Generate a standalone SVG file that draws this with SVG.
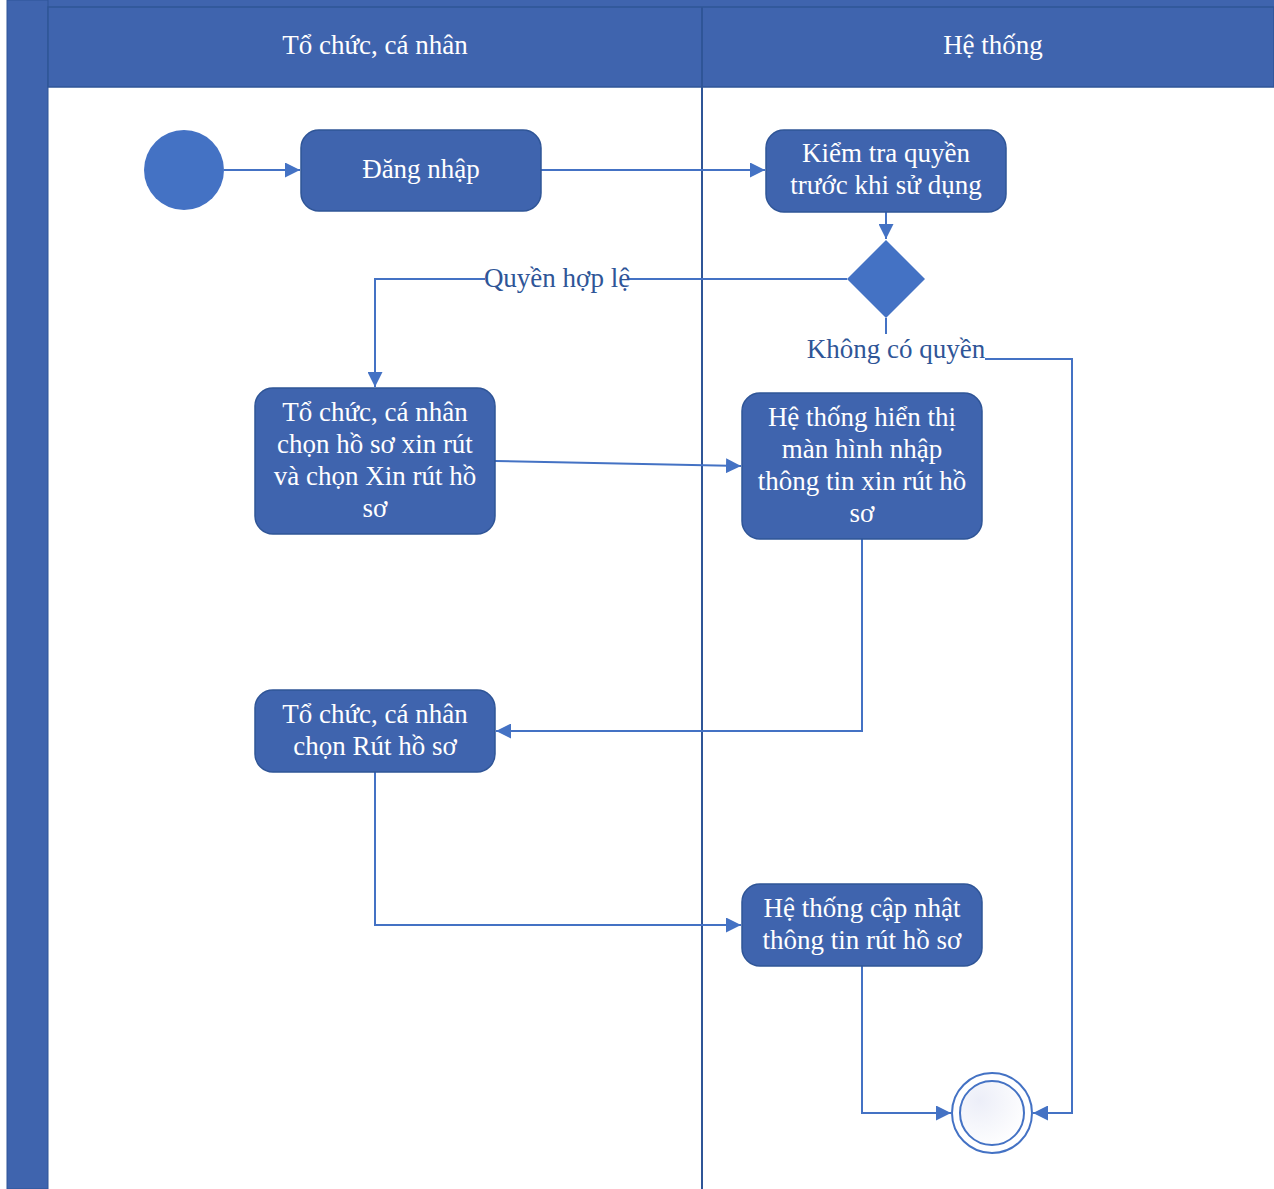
<svg xmlns="http://www.w3.org/2000/svg" width="1274" height="1189" viewBox="0 0 1274 1189">
<defs>
<style>
.node{fill:#3F64AE;stroke:#2F5597;stroke-width:1.5}
text{font-family:'Liberation Serif','Times New Roman','DejaVu Serif',serif;font-size:27px}
.nt{fill:#ffffff;text-anchor:middle}
.ht{fill:#ffffff;text-anchor:middle}
.lbl{fill:#2F5597;text-anchor:middle}
.edge{fill:none;stroke:#4472C4;stroke-width:2}
</style>
<marker id="arr" viewBox="0 0 10 10" refX="10" refY="5" markerWidth="15" markerHeight="15" markerUnits="userSpaceOnUse" orient="auto">
<path d="M0,0 L10,5 L0,10 Z" fill="#4472C4"/>
</marker>
<radialGradient id="endg" cx="0.3" cy="0.3" r="0.8">
<stop offset="0" stop-color="#eceef8"/>
<stop offset="1" stop-color="#ffffff"/>
</radialGradient>
</defs>
<rect x="0" y="0" width="1274" height="1189" fill="#ffffff"/>
<g id="pool">
<rect x="7" y="0" width="1267" height="7" fill="#3F64AE"/>
<rect x="7" y="0" width="41" height="1189" fill="#3F64AE" stroke="#2F5597" stroke-width="1"/>
<rect x="48" y="7" width="1226" height="80" fill="#3F64AE" stroke="#2F5597" stroke-width="1.5"/>
<line x1="702" y1="7" x2="702" y2="1189" stroke="#2F5597" stroke-width="2"/>
<text class="ht" x="375" y="54">Tổ chức, cá nhân</text>
<text class="ht" x="993" y="54">Hệ thống</text>
</g>
<g id="connectors">
<line class="edge" x1="224" y1="170" x2="300" y2="170" marker-end="url(#arr)"/>
<line class="edge" x1="541" y1="170" x2="765" y2="170" marker-end="url(#arr)"/>
<line class="edge" x1="886" y1="212" x2="886" y2="239" marker-end="url(#arr)"/>
<polyline class="edge" points="847,279 375,279 375,387" marker-end="url(#arr)"/>
<line class="edge" x1="886" y1="318" x2="886" y2="334"/>
<polyline class="edge" points="985,359 1072,359 1072,1113 1033,1113" marker-end="url(#arr)"/>
<line class="edge" x1="495" y1="461" x2="741" y2="466" marker-end="url(#arr)"/>
<polyline class="edge" points="862,539 862,731 496,731" marker-end="url(#arr)"/>
<polyline class="edge" points="375,772 375,925 741,925" marker-end="url(#arr)"/>
<polyline class="edge" points="862,966 862,1113 951,1113" marker-end="url(#arr)"/>
<rect x="485" y="264" width="144" height="30" fill="#ffffff"/>
<text class="lbl" x="557" y="287">Quyền hợp lệ</text>
<text class="lbl" x="896" y="358">Không có quyền</text>
</g>
<g id="start">
<circle cx="184" cy="170" r="40" fill="#4472C4"/>
</g>
<g id="dangnhap">
<rect class="node" x="301" y="130" width="240" height="81" rx="18"/>
<text class="nt" x="421" y="178">Đăng nhập</text>
</g>
<g id="kiemtra">
<rect class="node" x="766" y="130" width="240" height="82" rx="18"/>
<text class="nt" x="886" y="162">Kiểm tra quyền</text>
<text class="nt" x="886" y="194">trước khi sử dụng</text>
</g>
<g id="decision">
<polygon points="886,240 925,279 886,318 847,279" fill="#4472C4"/>
</g>
<g id="chonhoso">
<rect class="node" x="255" y="388" width="240" height="146" rx="18"/>
<text class="nt" x="375" y="421">Tổ chức, cá nhân</text>
<text class="nt" x="375" y="453">chọn hồ sơ xin rút</text>
<text class="nt" x="375" y="485">và chọn Xin rút hồ</text>
<text class="nt" x="375" y="517">sơ</text>
</g>
<g id="hienthi">
<rect class="node" x="742" y="393" width="240" height="146" rx="18"/>
<text class="nt" x="862" y="426">Hệ thống hiển thị</text>
<text class="nt" x="862" y="458">màn hình nhập</text>
<text class="nt" x="862" y="490">thông tin xin rút hồ</text>
<text class="nt" x="862" y="522">sơ</text>
</g>
<g id="chonrut">
<rect class="node" x="255" y="690" width="240" height="82" rx="18"/>
<text class="nt" x="375" y="723">Tổ chức, cá nhân</text>
<text class="nt" x="375" y="755">chọn Rút hồ sơ</text>
</g>
<g id="capnhat">
<rect class="node" x="742" y="884" width="240" height="82" rx="18"/>
<text class="nt" x="862" y="917">Hệ thống cập nhật</text>
<text class="nt" x="862" y="949">thông tin rút hồ sơ</text>
</g>
<g id="end">
<circle cx="992" cy="1113" r="40" fill="#ffffff" stroke="#4472C4" stroke-width="2"/>
<circle cx="992" cy="1113" r="32" fill="url(#endg)" stroke="#4472C4" stroke-width="2"/>
</g>
</svg>
